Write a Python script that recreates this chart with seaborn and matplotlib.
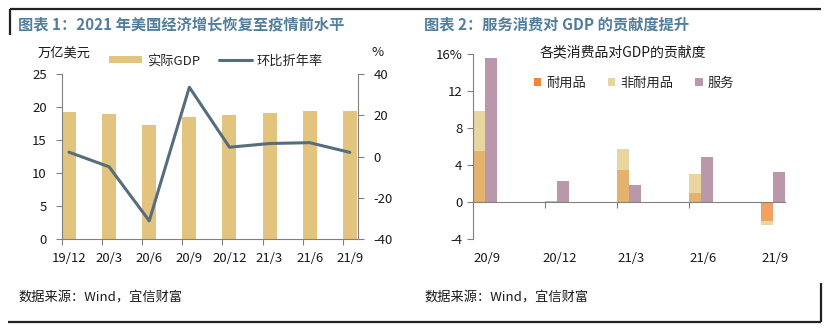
import numpy as np
import pandas as pd
import matplotlib
matplotlib.use('Agg')
import matplotlib.pyplot as plt
import seaborn as sns
from matplotlib.lines import Line2D
from matplotlib.patches import Patch

# ---------------- data ----------------
quarters1 = ['19/12', '20/3', '20/6', '20/9', '20/12', '21/3', '21/6', '21/9']
real_gdp = [19.2, 18.95, 17.25, 18.55, 18.75, 19.05, 19.35, 19.45]      # 万亿美元
qoq_saar = [2.1, -5.0, -31.2, 33.6, 4.5, 6.3, 6.7, 2.0]                 # %

quarters2 = ['20/9', '20/12', '21/3', '21/6', '21/9']
durables = [5.5, 0.1, 3.5, 1.0, -2.1]
nondurables = [4.4, 0.0, 2.2, 2.0, -0.4]
services = [15.6, 2.3, 1.8, 4.9, 3.3]

title1 = '图表 1：2021 年美国经济增长恢复至疫情前水平'
title2 = '图表 2：服务消费对 GDP 的贡献度提升'
source = '数据来源：Wind，宜信财富'

# ---------------- style ----------------
sns.set_theme(style='white')
plt.rcParams['font.family'] = ['Noto Sans CJK SC', 'DejaVu Sans']
plt.rcParams['axes.unicode_minus'] = False

C_GDP = '#E2C47E'
C_LINE = '#566E7C'
C_DUR_POS = '#E3B26C'
C_DUR_NEG = '#F2A25E'
C_DUR_LEG = '#EE8838'
C_NON = '#E8D5A0'
C_SER = '#BA97AB'
C_TITLE = '#527E9B'
C_SPINE = '#808080'
C_TXT = '#1a1a1a'

W, H = 828, 330
fig = plt.figure(figsize=(W / 100, H / 100), dpi=100)


def fx(px):
    return px / W


def fy(py):
    return 1 - py / H


FS = 9.5

# ---------------- left chart ----------------
ax1 = fig.add_axes([fx(62), fy(239), (358 - 62) / W, (239 - 74) / H])
ax1.set_facecolor('none')
idx1 = np.arange(len(quarters1))
bar_w1 = 0.35
pos1 = idx1 + bar_w1 / 2

sns.barplot(x=pos1, y=real_gdp, native_scale=True, width=bar_w1, color=C_GDP,
            saturation=1, linewidth=0, ax=ax1)
ax1.set_xlim(0, 7.38)
ax1.set_ylim(0, 25)
ax1.set_yticks([0, 5, 10, 15, 20, 25])
ax1.set_xticks(idx1)
ax1.set_xticklabels([])
ax1.set_xticks(pos1, minor=True)
ax1.set_xticklabels(quarters1, minor=True)
ax1.tick_params(axis='x', which='major', direction='out', length=4, width=0.8,
                color=C_SPINE, bottom=True)
ax1.tick_params(axis='x', which='minor', length=0, pad=9.5, labelsize=FS,
                labelcolor=C_TXT, bottom=True)
ax1.tick_params(axis='y', direction='out', length=4, width=0.8, color=C_SPINE,
                pad=7, labelsize=FS, labelcolor=C_TXT, left=True)
ax1.set_xlabel('')
ax1.set_ylabel('')
for s in ['top', 'right']:
    ax1.spines[s].set_visible(False)
for s in ['left', 'bottom']:
    ax1.spines[s].set_color(C_SPINE)
    ax1.spines[s].set_linewidth(0.8)

ax2 = ax1.twinx()
ax2.set_facecolor('none')
sns.lineplot(x=pos1, y=qoq_saar, color=C_LINE, linewidth=2.2, ax=ax2)
ax2.set_ylim(-40, 40)
ax2.set_yticks([-40, -20, 0, 20, 40])
ax2.set_ylabel('')
ax2.tick_params(axis='y', direction='out', length=4, width=0.8, color=C_SPINE,
                pad=7, labelsize=FS, labelcolor=C_TXT, right=True)
for s in ['top', 'left', 'bottom']:
    ax2.spines[s].set_visible(False)
ax2.spines['right'].set_color(C_SPINE)
ax2.spines['right'].set_linewidth(0.8)
ax2.grid(False)
ax1.grid(False)

fig.text(fx(38), fy(53), '万亿美元', fontsize=9.5, color=C_TXT, va='center', ha='left')
fig.text(fx(372), fy(52), '%', fontsize=9.5, color=C_TXT, va='center', ha='left')

h1 = [Patch(facecolor=C_GDP, edgecolor='none'), Line2D([], [], color=C_LINE, lw=2.2)]
fig.legend(h1, ['实际GDP', '环比折年率'], loc='center', bbox_to_anchor=(fx(216), fy(61)),
           ncol=2, frameon=False, fontsize=9.5, handlelength=2.5, handleheight=0.45,
           handletextpad=0.4, columnspacing=1.4, borderpad=0, borderaxespad=0)

# ---------------- right chart ----------------
ax3 = fig.add_axes([fx(473), fy(239), (784.7 - 473) / W, (239 - 54.3) / H])
ax3.set_facecolor('none')
idx2 = np.arange(len(quarters2))
bar_w2 = 0.167
pos_goods = idx2 + bar_w2 / 2
pos_serv = idx2 + bar_w2 * 1.5
goods_total = [d + n for d, n in zip(durables, nondurables)]

sns.barplot(x=pos_goods, y=goods_total, native_scale=True, width=bar_w2, color=C_NON,
            saturation=1, linewidth=0, ax=ax3)
ax3.bar(pos_goods, durables, width=bar_w2,
        color=[C_DUR_POS if v >= 0 else C_DUR_NEG for v in durables], linewidth=0)
sns.barplot(x=pos_serv, y=services, native_scale=True, width=bar_w2, color=C_SER,
            saturation=1, linewidth=0, ax=ax3)

ax3.set_xlim(0, 4.335)
ax3.set_ylim(-4, 16)
ax3.set_yticks([-4, 0, 4, 8, 12, 16])
ax3.set_yticklabels(['-4', '0', '4', '8', '12', '16%'])
ax3.set_xlabel('')
ax3.set_ylabel('')
ax3.grid(False)
ax3.spines['bottom'].set_position(('data', 0))
for s in ['top', 'right']:
    ax3.spines[s].set_visible(False)
for s in ['left', 'bottom']:
    ax3.spines[s].set_color(C_SPINE)
    ax3.spines[s].set_linewidth(0.8)
ax3.set_xticks(idx2)
ax3.set_xticklabels([])
ax3.tick_params(axis='x', direction='out', length=4, width=0.8, color=C_SPINE, bottom=True)
ax3.tick_params(axis='y', direction='out', length=4, width=0.8, color=C_SPINE,
                pad=3.5, labelsize=FS, labelcolor=C_TXT, left=True)

sec = ax3.secondary_xaxis('bottom')
sec.set_xticks(idx2 + 0.2)
sec.set_xticklabels(quarters2)
sec.tick_params(length=0, pad=9.5, labelsize=FS, labelcolor=C_TXT)
sec.spines['bottom'].set_visible(False)

fig.text(fx(623), fy(52), '各类消费品对GDP的贡献度', fontsize=10, color=C_TXT,
         ha='center', va='center')
h2 = [Patch(facecolor=C_DUR_LEG, edgecolor='none'),
      Patch(facecolor=C_NON, edgecolor='none'),
      Patch(facecolor=C_SER, edgecolor='none')]
fig.legend(h2, ['耐用品', '非耐用品', '服务'], loc='center', bbox_to_anchor=(fx(634), fy(83)),
           ncol=3, frameon=False, fontsize=9.5, handlelength=0.55, handleheight=0.55,
           handletextpad=0.35, columnspacing=1.7, borderpad=0, borderaxespad=0)

# ---------------- titles, sources, frame ----------------
fig.text(fx(18), fy(24), title1, fontsize=11, fontweight='bold', color=C_TITLE,
         ha='left', va='center')
fig.text(fx(424), fy(24), title2, fontsize=11, fontweight='bold', color=C_TITLE,
         ha='left', va='center')
fig.text(fx(18), fy(298), source, fontsize=9.5, color=C_TXT, ha='left', va='center')
fig.text(fx(424), fy(298), source, fontsize=9.5, color=C_TXT, ha='left', va='center')

FR = '#222222'
for xs, ys in [([10, 821], [9, 9]), ([10, 10], [9, 35]),
               ([8, 821], [322, 322]), ([821, 821], [283, 322])]:
    fig.add_artist(Line2D([fx(x) for x in xs], [fy(y) for y in ys], color=FR, lw=1.6,
                          solid_capstyle='butt'))

fig.savefig('out.png', dpi=100)
